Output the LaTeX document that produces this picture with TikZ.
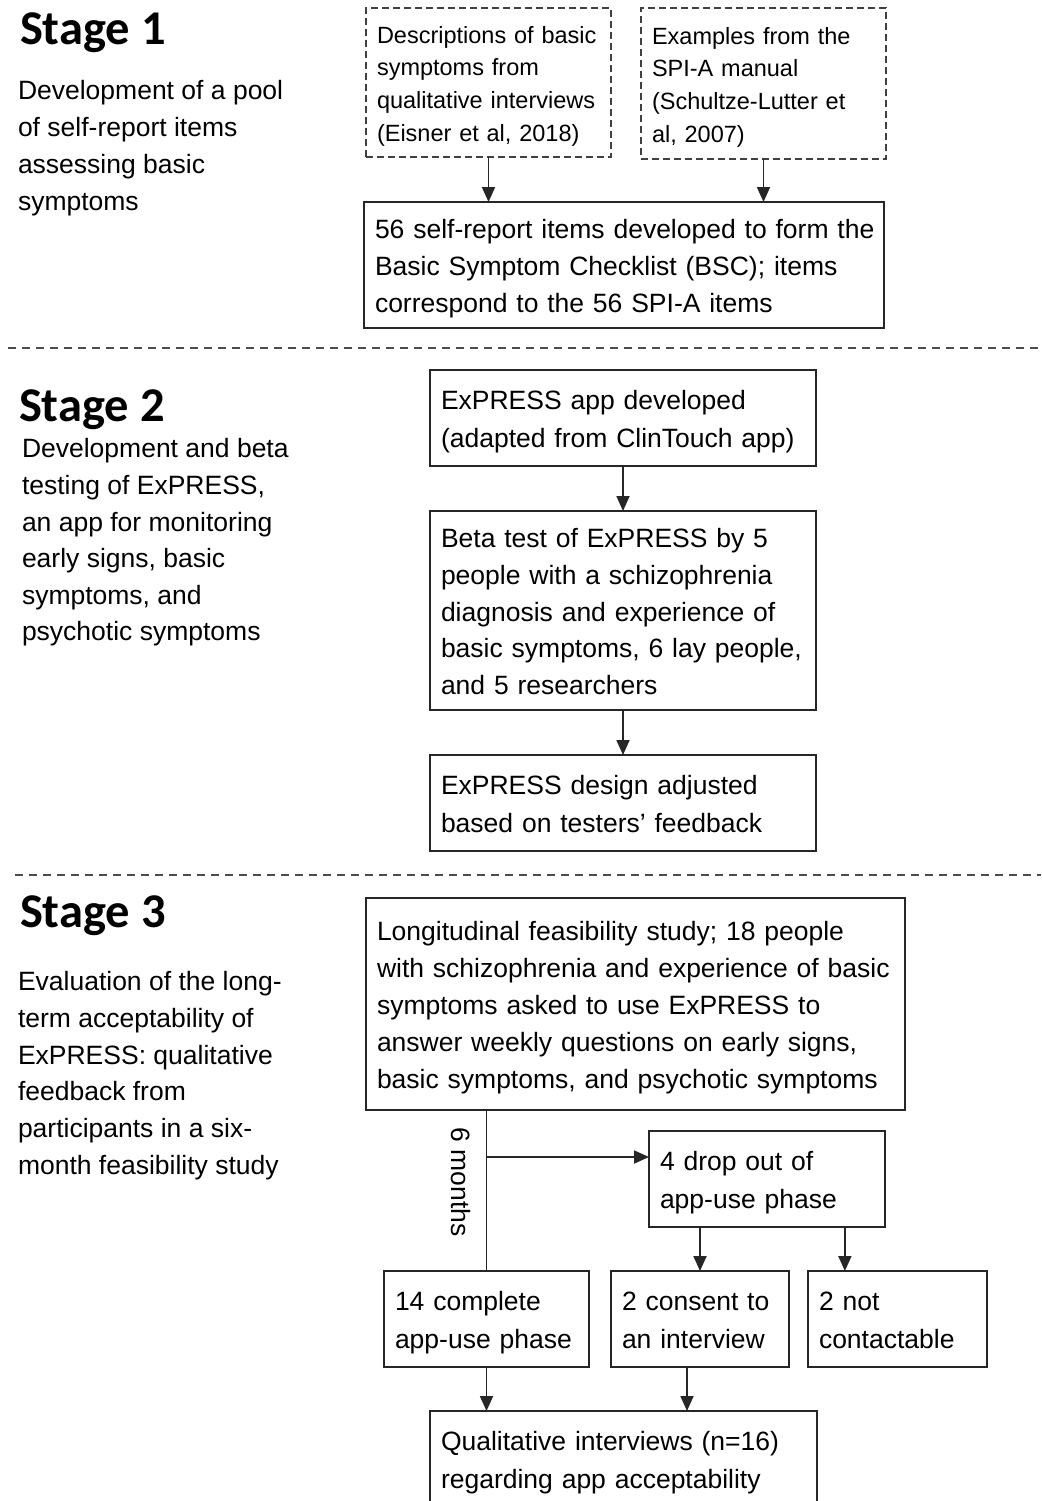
\documentclass[tikz,border=0pt]{standalone}
\usepackage{fontspec}
\setmainfont{Liberation Sans}
\newfontfamily\titlefont{Carlito}
\usetikzlibrary{arrows.meta,calc}
\newcommand\bst{\rule[-8pt]{0pt}{37pt}}
\newcommand\sst{\rule[-6.5pt]{0pt}{32.7pt}}
\begin{document}
\begin{tikzpicture}[x=1pt,y=-1pt,
  every node/.style={inner sep=0pt, outer sep=0pt},
  body/.style={font=\fontsize{26.5}{36.8}\selectfont},
  small/.style={font=\fontsize{23.5}{32.7}\selectfont},
  box/.style={draw=black!85, line width=1.8pt, anchor=north west, align=left, inner xsep=11pt, inner ysep=0pt, body},
  dbox/.style={box, small, draw=black!75, line width=1.6pt, dash pattern=on 7pt off 4pt},
  title/.style={font=\titlefont\bfseries\fontsize{48.5}{50}\selectfont, anchor=base west},
  desc/.style={body, anchor=north west, align=left},
  arr/.style={line width=1.8pt, draw=black!85, -{Triangle[length=15pt,width=13pt]}},
  conn/.style={line width=1.8pt, draw=black!85},
  sep/.style={line width=1.6pt, draw=black!70, dash pattern=on 8pt off 6pt}
]
\useasboundingbox (0,0) rectangle (1041,1501);
\fill[white] (0,0) rectangle (1041,1501);

% separators
\draw[sep] (8,348) -- (1041,348);
\draw[sep] (15,875) -- (1041,875);

% stage titles and descriptions
\node[title] (t1) at (20,45) {Stage 1};
\node[title] (t2) at (19,421) {Stage 2};
\node[title] (t3) at (20,927) {Stage 3};

\node[desc, font=\fontsize{26.5}{36.8}\selectfont] (s1) at (18,80.5)
  {Development of a pool\\of self-report items\\assessing basic\\symptoms};
\node[desc, font=\fontsize{26.5}{36.6}\selectfont] (s2) at (22,438.7)
  {Development and beta\\testing of ExPRESS,\\an app for monitoring\\early signs, basic\\symptoms, and\\psychotic symptoms};
\node[desc, font=\fontsize{26.5}{36.7}\selectfont] (s3) at (18,971.5)
  {Evaluation of the long-\\term acceptability of\\ExPRESS: qualitative\\feedback from\\participants in a six-\\month feasibility study};

% stage 1 boxes
\node[dbox, text width=223pt, minimum height=149pt] (d1) at (366,8)
  {\sst Descriptions of basic\\symptoms from\\\mbox{qualitative interviews}\\(Eisner et al, 2018)\sst};
\node[dbox, text width=223pt, minimum height=151pt] (d2) at (641,8)
  {\sst Examples from the\\SPI-A manual\\(Schultze-Lutter et\\al, 2007)\sst};
\node[box, text width=498pt, minimum height=126pt] (bsc) at (364,202)
  {\bst\mbox{56 self-report items developed to form the}\\Basic Symptom Checklist (BSC); items\\correspond to the 56 SPI-A items\bst};

\draw[arr] (d1.south) -- (d1.south |- bsc.north);
\draw[arr] (d2.south) -- (d2.south |- bsc.north);

% stage 2 boxes
\node[box, text width=364pt, minimum height=96pt] (e1) at (430,370)
  {\bst ExPRESS app developed\\\mbox{(adapted from ClinTouch app)}\bst};
\node[box, text width=364pt, minimum height=199pt] (e2) at (430,511)
  {\bst Beta test of ExPRESS by 5\\people with a schizophrenia\\diagnosis and experience of\\\mbox{basic symptoms, 6 lay people,}\\and 5 researchers\bst};
\node[box, text width=364pt, minimum height=96pt] (e3) at (430,755)
  {\bst ExPRESS design adjusted\\based on testers’ feedback\bst};

\draw[arr] (e1.south) -- (e2.north);
\draw[arr] (e2.south) -- (e3.north);

% stage 3 boxes
\node[box, text width=517pt, minimum height=212pt] (lon) at (366,898)
  {\bst\mbox{Longitudinal feasibility study; 18 people}\\\mbox{with schizophrenia and experience of basic}\\symptoms asked to use ExPRESS to\\\mbox{answer weekly questions on early signs,}\\\mbox{basic symptoms, and psychotic symptoms}\bst};
\node[box, text width=214pt, minimum height=96pt] (drop) at (649,1131)
  {\bst 4 drop out of\\app-use phase\bst};
\node[box, text width=183pt, minimum height=96pt] (c14) at (384,1271)
  {\bst 14 complete\\\mbox{app-use phase}\bst};
\node[box, text width=156pt, minimum height=96pt] (cons) at (611,1271)
  {\bst 2 consent to\\an interview\bst};
\node[box, text width=157pt, minimum height=96pt] (notc) at (808,1271)
  {\bst 2 not\\contactable\bst};
\node[box, text width=365pt, minimum height=96pt] (qual) at (430,1411)
  {\bst Qualitative interviews (n=16)\\regarding app acceptability\bst};

\draw[conn] (c14.north |- lon.south) -- (c14.north);
\coordinate (j) at (486,1157);
\draw[arr] (j) -- (j -| drop.west);
\node[body, rotate=-90] (six) at (461,1182) {6 months};

\draw[arr] (cons.north |- drop.south) -- (cons.north);
\coordinate (dn) at ($(drop.south west)!0.83!(drop.south east)$);
\draw[arr] (dn) -- (dn |- notc.north);

\draw[arr] (c14.south) -- (c14.south |- qual.north);
\coordinate (cs) at ([xshift=-13pt]cons.south);
\draw[arr] (cs) -- (cs |- qual.north);
\end{tikzpicture}
\end{document}
